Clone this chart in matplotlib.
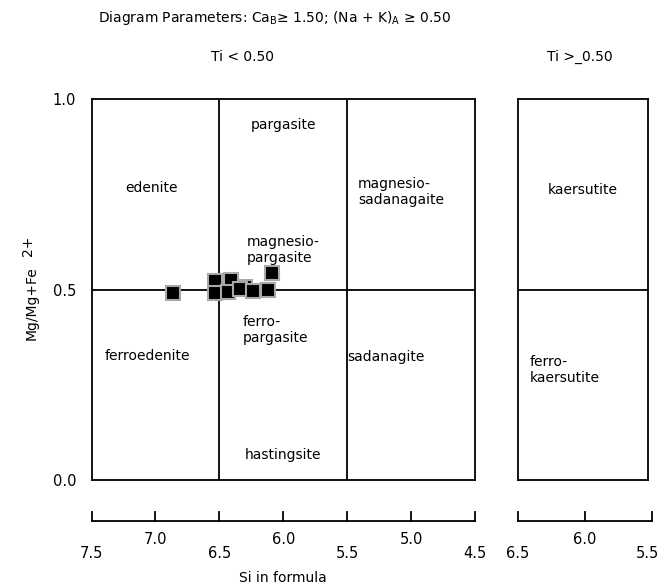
import numpy as np
import matplotlib
matplotlib.use('Agg')
import matplotlib.pyplot as plt

# amphibole analyses: Si (apfu) and Mg/(Mg+Fe2+)
si = [6.86, 6.53, 6.53, 6.41, 6.43, 6.30, 6.34, 6.24, 6.12, 6.09]
mg = [0.491, 0.522, 0.491, 0.525, 0.493, 0.507, 0.501, 0.496, 0.499, 0.543]

# field boundaries
si_bounds = [6.5, 5.5]
mg_bound = 0.5

# scale bar ticks under each panel
main_ticks = [7.5, 7.0, 6.5, 6.0, 5.5, 5.0, 4.5]
ti_ticks = [6.5, 6.0, 5.5]

W, H = 661, 588
fig = plt.figure(figsize=(W / 100, H / 100), dpi=100)
plt.rcParams['font.family'] = 'DejaVu Sans'
fs = 10
lw = 1.3


def px(x0, y0, x1, y1):
    return [x0 / W, 1 - y1 / H, (x1 - x0) / W, (y1 - y0) / H]


ax = fig.add_axes(px(91.5, 99, 475, 480))
ax.set_xlim(7.5, 4.5)
ax.set_ylim(0, 1)
for s in ax.spines.values():
    s.set_linewidth(lw)
for b in si_bounds:
    ax.axvline(b, color='black', lw=lw)
ax.axhline(mg_bound, color='black', lw=lw)
ax.set_xticks([])
ax.set_yticks([0, 0.5, 1.0])
ax.set_yticklabels(['0.0', '0.5', '1.0'], fontsize=fs + 0.5)
ax.tick_params(axis='y', length=0, pad=11)

ax.plot(si, mg, 's', ms=10.5, mfc='black', mec='#a8a8a8', mew=1.5, zorder=5)

labels = [
    (7.03, 0.766, 'edenite', 'center'),
    (6.0, 0.932, 'pargasite', 'center'),
    (5.415, 0.756, 'magnesio-\nsadanagaite', 'left'),
    (6.283, 0.604, 'magnesio-\npargasite', 'left'),
    (6.32, 0.394, 'ferro-\npargasite', 'left'),
    (7.06, 0.325, 'ferroedenite', 'center'),
    (5.2, 0.323, 'sadanagite', 'center'),
    (6.0, 0.066, 'hastingsite', 'center'),
]
for x, y, t, ha in labels:
    ax.text(x, y, t, ha=ha, va='center', fontsize=fs, linespacing=1.25)

# Si scale bar below the main panel
yb, yt = -0.108, -0.084
ax.plot([main_ticks[0], main_ticks[-1]], [yb, yb], color='black', lw=lw, clip_on=False)
for i, t in enumerate(main_ticks):
    ax.plot([t, t], [yb, yt], color='black', lw=lw, clip_on=False)
    ax.text(t, -0.155 if i % 2 else -0.192, f'{t:.1f}', ha='center', va='center',
            fontsize=fs + 0.5)
ax.text(6.0, -0.257, 'Si in formula', ha='center', va='center', fontsize=fs)

ax.text(-0.155, 0.465, 'Mg/Mg+Fe', rotation=90, ha='center', va='center',
        fontsize=fs, transform=ax.transAxes)
ax.text(-0.165, 0.615, '2+', rotation=90, ha='center', va='center',
        fontsize=fs, transform=ax.transAxes)

# Ti >= 0.50 panel
ax2 = fig.add_axes(px(518, 99, 648, 480))
ax2.set_xlim(6.5, 5.53)
ax2.set_ylim(0, 1)
for s in ax2.spines.values():
    s.set_linewidth(lw)
ax2.axhline(mg_bound, color='black', lw=lw)
ax2.set_xticks([])
ax2.set_yticks([])
ax2.text(6.02, 0.761, 'kaersutite', ha='center', va='center', fontsize=fs)
ax2.text(6.41, 0.289, 'ferro-\nkaersutite', ha='left', va='center', fontsize=fs,
         linespacing=1.25)
ax2.plot([ti_ticks[0], ti_ticks[-1]], [yb, yb], color='black', lw=lw, clip_on=False)
for i, t in enumerate(ti_ticks):
    ax2.plot([t, t], [yb, yt], color='black', lw=lw, clip_on=False)
    xt = t + 0.035 if t == ti_ticks[-1] else t
    ax2.text(xt, -0.155 if i % 2 else -0.192, f'{t:.1f}', ha='center', va='center',
             fontsize=fs + 0.5)

fig.text(275 / W, 1 - 18 / H,
         r'Diagram Parameters: Ca$_\mathregular{B}$≥ 1.50; (Na + K)$_\mathregular{A}$ ≥ 0.50',
         ha='center', va='center', fontsize=fs)
fig.text(242 / W, 1 - 57 / H, 'Ti < 0.50', ha='center', va='center', fontsize=fs)
fig.text(580 / W, 1 - 57 / H, 'Ti >_0.50', ha='center', va='center', fontsize=fs)

fig.savefig('out.png', dpi=100)
